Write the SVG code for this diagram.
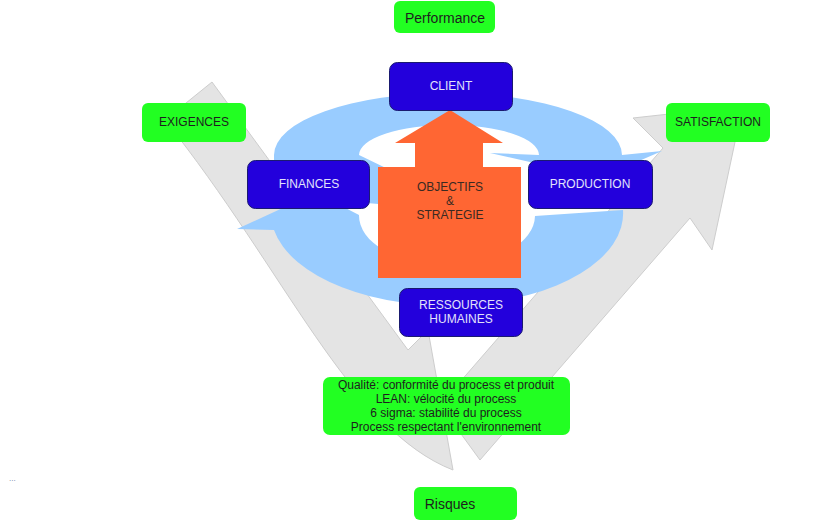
<svg xmlns="http://www.w3.org/2000/svg" width="840" height="521" viewBox="0 0 840 521">
<defs>
<style>
.grey{fill:#e4e4e4;stroke:#cdcdcd;stroke-width:1;stroke-linejoin:round}
.swirl{fill:#99ccff}
.orange{fill:#ff6633}
.blue rect{fill:#2300dc;stroke:#1a1a70;stroke-width:1}
.green rect{fill:#22ff22}
.wt{font-family:"Liberation Sans",Arial,sans-serif;font-size:12px;fill:#e2e2fa;text-anchor:middle}
.dt{font-family:"Liberation Sans",Arial,sans-serif;font-size:12px;fill:#1e1e1e;text-anchor:middle}
.big{font-size:14px}
.ot{font-family:"Liberation Sans",Arial,sans-serif;font-size:12px;fill:#3a2a22;text-anchor:middle}
</style>
</defs>
<rect width="840" height="521" fill="#ffffff"/>
<g id="connectors">
<path class="grey" d="M480,460 L690,218 L712,250 L735,142 L742,106 L633,118 L663,148 L440,405 Z"/>
<path class="grey" d="M212,82 L165,120 C285,270 350,430 453,470 L428,330 L408,350 Z"/>
<path class="swirl" d="M274,195 L274,155 A174 62 0 0 1 622,155 L662,151 L600,178 L490,153 L539,155 A90 30 0 0 0 359,155 L390,170 L390,205 Z"/>
<path class="swirl" d="M535,216 L623,210 A176 92 0 0 1 274,230 L237,229 L300,200 L330,200 L359,215 A88 50 0 0 0 535,216 Z"/>
</g>
<g id="objectifs">
<polygon class="orange" points="450,110 503,143 483,143 483,167 521,167 521,278 378,278 378,167 415,167 415,143 395,143"/>
<text class="ot" x="450" y="191">OBJECTIFS</text>
<text class="ot" x="450" y="205">&amp;</text>
<text class="ot" x="450" y="219">STRATEGIE</text>
</g>
<g id="performance" class="green">
<rect x="394" y="1" width="101" height="32" rx="6"/>
<text class="dt big" x="445" y="23">Performance</text>
</g>
<g id="client" class="blue">
<rect x="389.5" y="62.5" width="123" height="48" rx="8"/>
<text class="wt" x="451" y="90">CLIENT</text>
</g>
<g id="exigences" class="green">
<rect x="142" y="103" width="104" height="39" rx="6"/>
<text class="dt" x="194" y="126">EXIGENCES</text>
</g>
<g id="satisfaction" class="green">
<rect x="666" y="103" width="104" height="39" rx="6"/>
<text class="dt" x="718" y="126">SATISFACTION</text>
</g>
<g id="finances" class="blue">
<rect x="247.5" y="160.5" width="122" height="48" rx="8"/>
<text class="wt" x="309" y="188">FINANCES</text>
</g>
<g id="production" class="blue">
<rect x="528.5" y="160.5" width="124" height="48" rx="8"/>
<text class="wt" x="590" y="188">PRODUCTION</text>
</g>
<g id="ressources" class="blue">
<rect x="399.5" y="288.5" width="123" height="48" rx="8"/>
<text class="wt" x="461" y="309">RESSOURCES</text>
<text class="wt" x="461" y="323">HUMAINES</text>
</g>
<g id="qualite" class="green">
<rect x="323" y="377" width="247" height="58" rx="7"/>
<text class="dt" x="446" y="389">Qualité: conformité du process et produit</text>
<text class="dt" x="446" y="403">LEAN: vélocité du process</text>
<text class="dt" x="446" y="417">6 sigma: stabilité du process</text>
<text class="dt" x="446" y="431">Process respectant l'environnement</text>
</g>
<g id="risques" class="green">
<rect x="414" y="487" width="103" height="33" rx="6"/>
<text class="dt big" x="450" y="509">Risques</text>
</g>
<text x="9" y="481" font-family="Liberation Sans, Arial, sans-serif" font-size="8" fill="#6a7fa0">...</text>
</svg>
